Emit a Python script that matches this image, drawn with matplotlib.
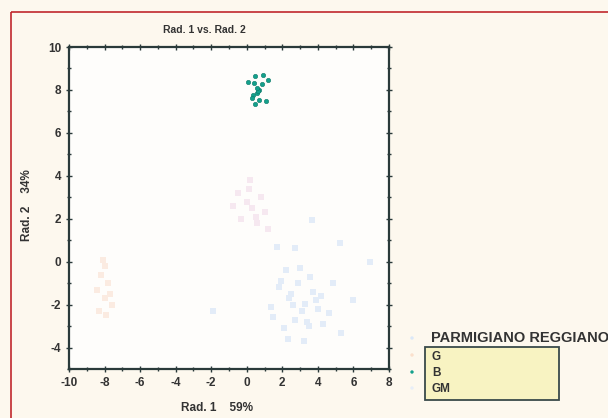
import numpy as np
import matplotlib.pyplot as plt
from matplotlib.patches import Rectangle
from matplotlib.ticker import MultipleLocator

plt.rcParams['font.family'] = ['Liberation Sans', 'DejaVu Sans']
plt.rcParams['axes.unicode_minus'] = False

# group GM (teal, clearly visible)
gm_x = [0.05, 0.46, 0.89, 1.21, 0.42, 0.83, 0.70, 0.56, 0.37, 0.27, 0.70, 1.08, 0.46, 0.65, 0.55]
gm_y = [8.38, 8.65, 8.70, 8.46, 8.34, 8.26, 8.00, 7.87, 7.76, 7.61, 7.53, 7.50, 7.35, 7.95, 8.10]

# group G (pale blue, faded)
g_x = [3.67, 5.24, 1.70, 2.69, 6.93, 2.20, 3.56, 4.86, 2.47, 3.30, 3.90, 5.95, 1.36, -1.90,
       2.69, 3.40, 4.30, 5.30, 2.30, 3.20, 1.80, 2.90, 3.10, 2.60, 4.00, 3.70, 1.50, 2.10,
       4.60, 3.00, 2.40, 3.50, 1.90, 4.20]
g_y = [1.94, 0.87, 0.69, 0.64, 0.00, -0.40, -0.70, -1.00, -1.50, -1.95, -1.80, -1.78, -2.10, -2.30,
       -2.70, -2.80, -2.90, -3.30, -3.60, -3.70, -1.20, -1.00, -2.30, -2.00, -2.20, -1.40, -2.60, -3.10,
       -2.40, -0.30, -1.70, -3.00, -0.90, -1.60]

# group B (pale pink, faded)
b_x = [0.20, -0.50, 0.00, 0.30, 1.00, 0.60, -0.80, 0.80, 1.20, -0.30, 0.10, 0.50]
b_y = [3.80, 3.20, 2.80, 2.50, 2.30, 1.80, 2.60, 3.00, 1.50, 2.00, 3.40, 2.10]

# other group (pale orange, faded)
o_x = [-8.0, -8.2, -7.8, -8.4, -8.0, -7.6, -8.3, -7.9, -8.1, -7.7]
o_y = [-0.2, -0.6, -1.0, -1.3, -1.7, -2.0, -2.3, -2.5, 0.1, -1.5]

legend_labels = ['G', 'B', 'GM']

W, H = 608, 418
fig = plt.figure(figsize=(W / 100, H / 100), dpi=100)
fig.patch.set_facecolor('#fdf8ee')

ax = fig.add_axes([69 / W, 1 - 369 / H, (389 - 69) / W, (369 - 47) / H])
ax.set_facecolor('#fefdfb')
ax.scatter(g_x, g_y, s=22, marker='s', color='#e3ecf8', linewidths=0, zorder=2)
ax.scatter(b_x, b_y, s=22, marker='s', color='#f6e8f0', linewidths=0, zorder=2)
ax.scatter(o_x, o_y, s=22, marker='s', color='#fbebe1', linewidths=0, zorder=2)
ax.scatter(gm_x, gm_y, s=10, color='#14a08c', edgecolors='#0f7a6a', linewidths=0.4, zorder=3)

ax.set_xlim(-10, 8)
ax.set_ylim(-5, 10)
ax.xaxis.set_major_locator(MultipleLocator(2))
ax.yaxis.set_major_locator(MultipleLocator(2))
ax.xaxis.set_minor_locator(MultipleLocator(1))
ax.yaxis.set_minor_locator(MultipleLocator(1))
ax.tick_params(which='both', top=True, right=True, direction='inout', color='#2a3a3a',
               labelsize=8.5, length=4, width=1)
ax.tick_params(which='minor', length=2.5)
for lab in ax.get_xticklabels() + ax.get_yticklabels():
    lab.set_fontweight('bold')
    lab.set_color('#333333')
for sp in ax.spines.values():
    sp.set_linewidth(1.6)
    sp.set_color('#2a3a3a')

fig.text(204 / W, 1 - 30 / H, 'Rad. 1 vs. Rad. 2', ha='center', va='center',
         fontsize=7.5, fontweight='bold', color='#333333')
fig.text(217 / W, 1 - 408 / H, 'Rad. 1    59%', ha='center', va='center',
         fontsize=8.5, fontweight='bold', color='#333333')
fig.text(27 / W, 1 - 205 / H, 'Rad. 2    34%', ha='center', va='center', rotation=90,
         fontsize=8.5, fontweight='bold', color='#333333')

# legend drawn in pixel space
ov = fig.add_axes([0, 0, 1, 1], facecolor='none')
ov.set_xlim(0, W)
ov.set_ylim(H, 0)
ov.axis('off')
ov.add_patch(Rectangle((425, 347), 134, 53, facecolor='#f8f3c2', edgecolor='#3a4a4a', lw=1.3))
ov.text(431, 338, 'PARMIGIANO REGGIANO', ha='left', va='center', fontsize=10.5,
        fontweight='bold', color='#333333')
for i, lab in enumerate(legend_labels):
    ov.text(432, 357 + i * 16, lab, ha='left', va='center', fontsize=8.5,
            fontweight='bold', color='#333333')
ov.scatter([412, 412, 412, 412], [338, 355, 372, 388], s=[6, 6, 6, 6],
           color=['#dbe8f8', '#fbe0cc', '#14a08c', '#e8eef8'], linewidths=0)

# red frame
ov.add_patch(Rectangle((11, 12), W, H, facecolor='none', edgecolor='#c0282d', lw=1.2))

fig.savefig('out.png', dpi=100, facecolor=fig.get_facecolor())
